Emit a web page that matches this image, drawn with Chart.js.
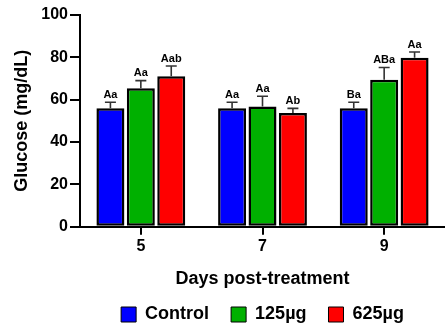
<!DOCTYPE html>
<html lang="en">
<head>
  <meta charset="UTF-8" />
  <title>Glucose</title>
  <style>
    html, body { margin: 0; padding: 0; background: #fff; }
    #wrap { width: 445px; height: 327px; }
  </style>
</head>
<body>
  <div id="wrap"><canvas id="chart"></canvas></div>
  <script src="https://cdn.jsdelivr.net/npm/chart.js@4.4.0/dist/chart.umd.min.js"></script>
  <script>
    // data
    var days = ["5", "7", "9"];
    var control = [56, 56, 56];
    var dose125 = [65.4, 56.8, 69.4];
    var dose625 = [71.1, 53.7, 79.8];
    var controlErr = [2.8, 2.8, 2.8];
    var dose125Err = [3.6, 4.8, 5.8];
    var dose625Err = [4.8, 2.2, 2.7];
    var controlLetters = ["Aa", "Aa", "Ba"];
    var dose125Letters = ["Aa", "Aa", "ABa"];
    var dose625Letters = ["Aab", "Ab", "Aa"];
    var yTicks = [0, 20, 40, 60, 80, 100];

    var font = "'Liberation Sans', Arial, sans-serif";

    // error bars (upper only) + letters above them
    var errorBars = {
      id: "errorBars",
      afterDatasetsDraw: function (chart) {
        var ctx = chart.ctx;
        var y = chart.scales.y;
        chart.data.datasets.forEach(function (ds, i) {
          var meta = chart.getDatasetMeta(i);
          meta.data.forEach(function (bar, j) {
            var top = y.getPixelForValue(ds.data[j] + ds.err[j]);
            ctx.save();
            ctx.strokeStyle = "#333";
            ctx.lineWidth = 1.6;
            ctx.beginPath();
            ctx.moveTo(bar.x, bar.y);
            ctx.lineTo(bar.x, top);
            ctx.moveTo(bar.x - 5.5, top);
            ctx.lineTo(bar.x + 5.5, top);
            ctx.stroke();
            ctx.fillStyle = "#000";
            ctx.font = "bold 11px " + font;
            ctx.textAlign = "center";
            ctx.textBaseline = "bottom";
            ctx.fillText(ds.letters[j], bar.x, top - 2);
            ctx.restore();
          });
        });
      }
    };

    var ctx = document.getElementById("chart").getContext("2d");
    new Chart(ctx, {
      type: "bar",
      data: {
        labels: days,
        datasets: [
          { label: "Control", data: control, err: controlErr, letters: controlLetters, backgroundColor: "#0000ff" },
          { label: "125µg", data: dose125, err: dose125Err, letters: dose125Letters, backgroundColor: "#00b000" },
          { label: "625µg", data: dose625, err: dose625Err, letters: dose625Letters, backgroundColor: "#ff0000" }
        ]
      },
      options: {
        responsive: true,
        maintainAspectRatio: false,
        animation: false,
        layout: { padding: { top: 15, right: 0, left: 2, bottom: -6.5 } },
        datasets: {
          bar: {
            borderColor: "#000",
            borderWidth: 2.5,
            borderSkipped: false,
            barPercentage: 0.92,
            categoryPercentage: 0.75
          }
        },
        plugins: {
          legend: {
            position: "bottom",
            fullSize: false,
            labels: {
              color: "#000",
              font: { family: font, size: 18, weight: "bold" },
              boxWidth: 15,
              boxHeight: 15,
              padding: 22,
              generateLabels: function (chart) {
                return chart.data.datasets.map(function (ds, i) {
                  return {
                    text: ds.label,
                    fillStyle: ds.backgroundColor,
                    strokeStyle: "#000",
                    lineWidth: 1,
                    fontColor: "#000",
                    datasetIndex: i
                  };
                });
              }
            }
          },
          tooltip: { enabled: false }
        },
        scales: {
          x: {
            border: { color: "#000", width: 2 },
            grid: { offset: false, drawOnChartArea: false, drawTicks: true, tickLength: 8, color: "#000", lineWidth: 2 },
            ticks: { color: "#000", font: { family: font, size: 16, weight: "bold" }, padding: 2 },
            title: { display: true, text: "Days post-treatment", color: "#000", font: { family: font, size: 18, weight: "bold" }, padding: { top: 10, bottom: -6 } }
          },
          y: {
            min: 0,
            max: 100,
            afterBuildTicks: function (axis) {
              axis.ticks = yTicks.map(function (v) { return { value: v }; });
            },
            afterFit: function (axis) {
              axis.width = 78;
            },
            border: { color: "#000", width: 2 },
            grid: { drawOnChartArea: false, drawTicks: true, tickLength: 10, color: "#000", lineWidth: 2 },
            ticks: { color: "#000", font: { family: font, size: 16, weight: "bold" }, padding: 2 },
            title: { display: true, text: "Glucose (mg/dL)", color: "#000", font: { family: font, size: 18, weight: "bold" }, padding: { top: 9, bottom: 0 } }
          }
        }
      },
      plugins: [errorBars]
    });
  </script>
</body>
</html>
